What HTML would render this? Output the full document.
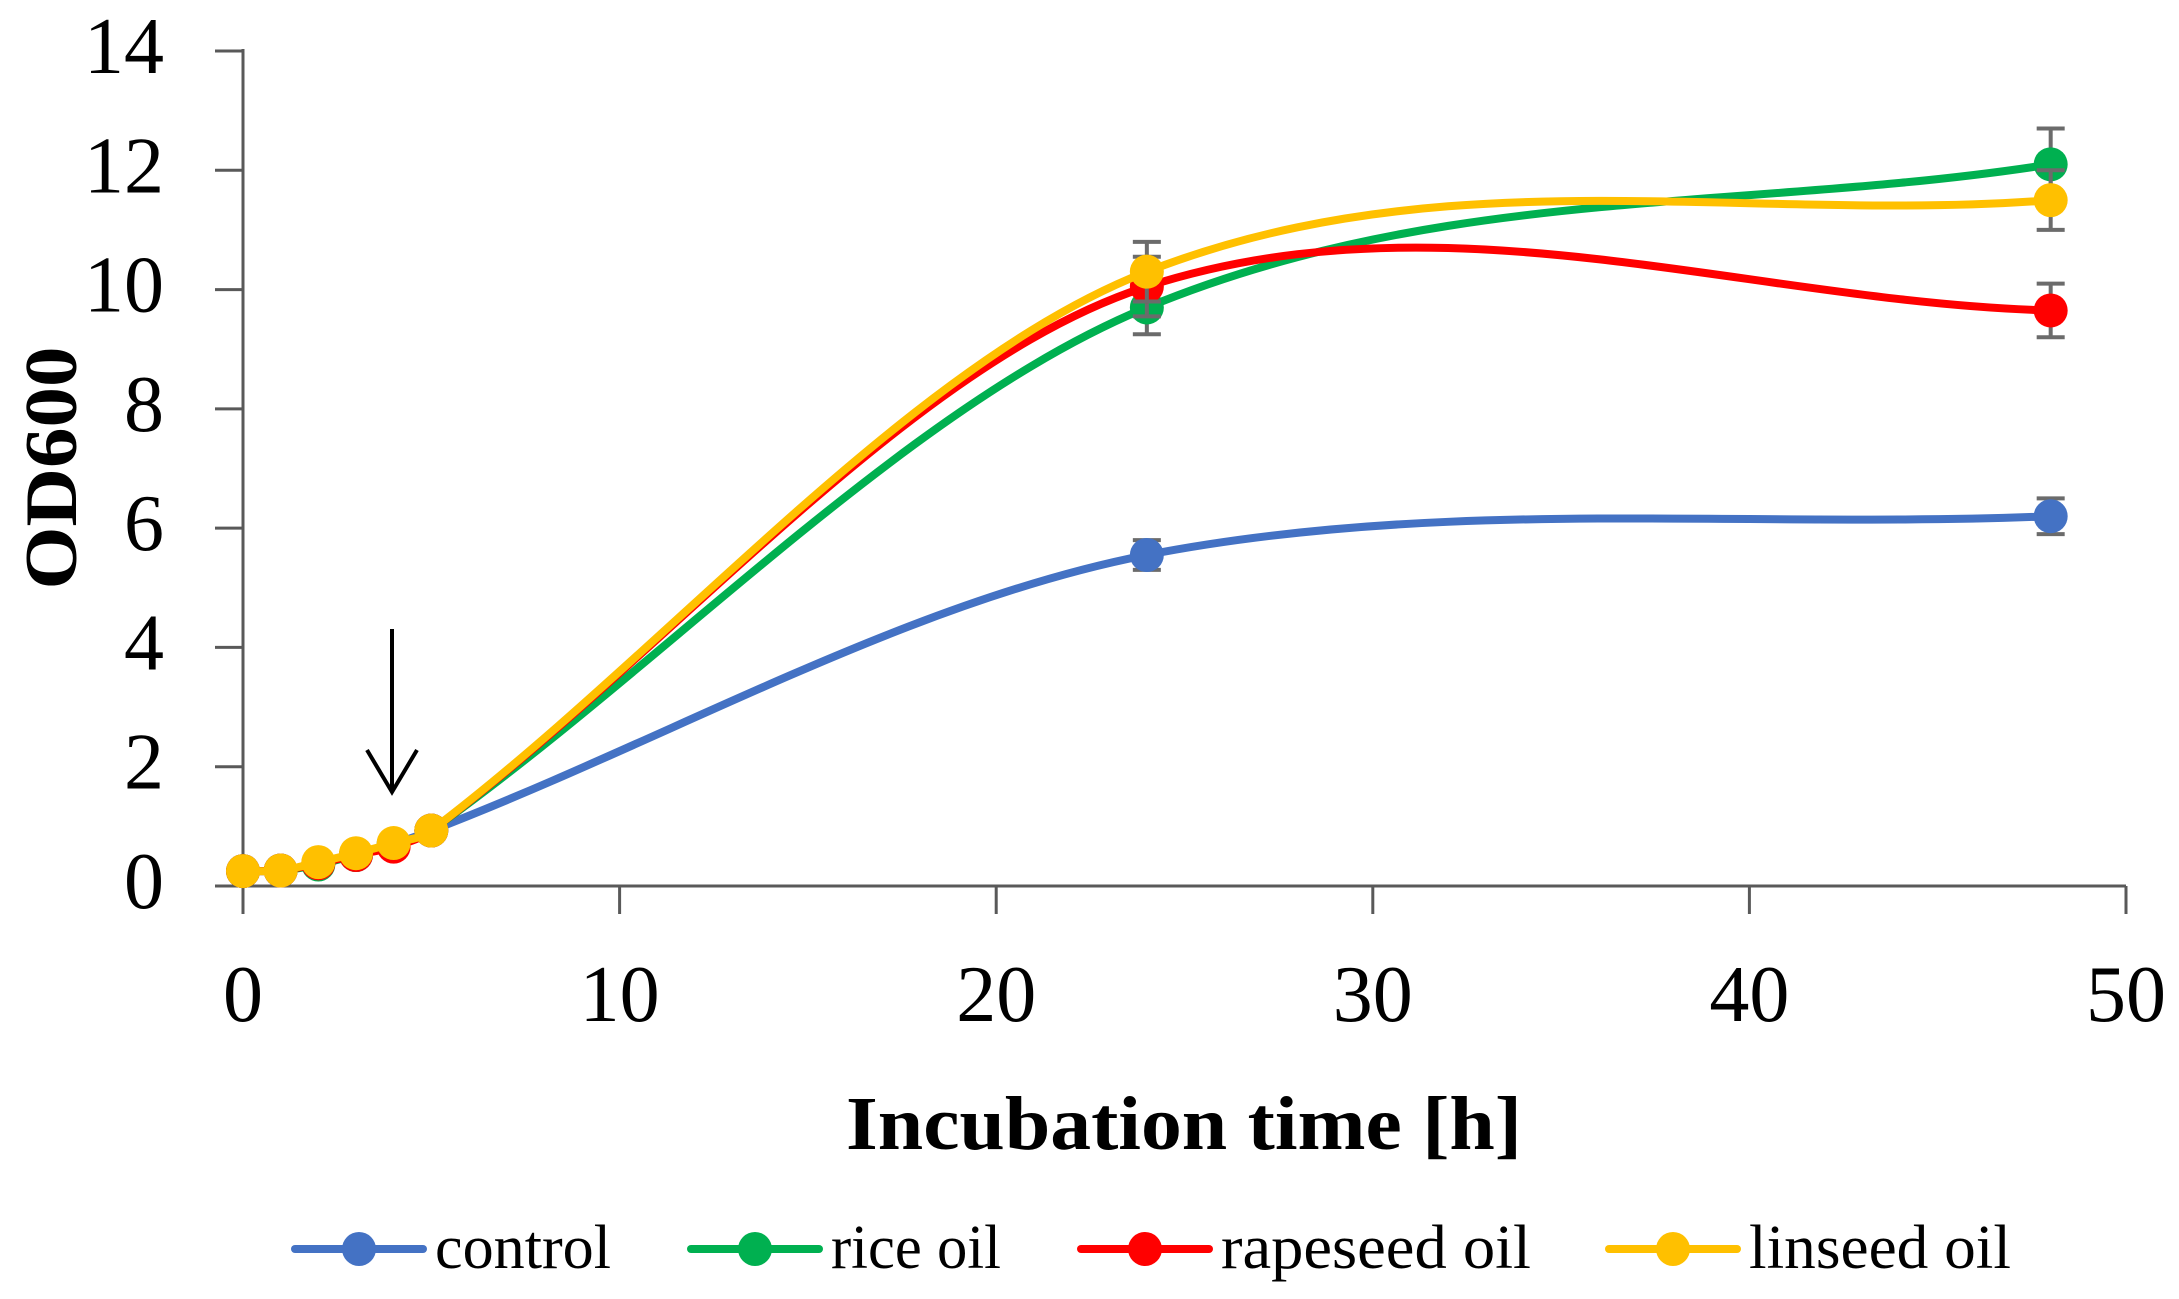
<!DOCTYPE html>
<html><head><meta charset="utf-8"><style>
html,body{margin:0;padding:0;background:#fff;}
svg{display:block;}
text{font-family:"Liberation Serif",serif;fill:#000;}
</style></head><body>
<svg id="chart" width="2179" height="1299" viewBox="0 0 2179 1299" xmlns="http://www.w3.org/2000/svg">
<g id="axes"></g>
<g id="series"></g>
<g stroke="#000" stroke-width="4" fill="none">
<line x1="392" y1="629" x2="392" y2="792"/>
<polyline points="367,750 392,792 417,750"/>
</g>
<text x="1184" y="1149" text-anchor="middle" font-size="76" font-weight="bold" textLength="676" lengthAdjust="spacingAndGlyphs">Incubation time [h]</text>
<text transform="translate(76,468) rotate(-90)" text-anchor="middle" font-size="74" font-weight="bold" textLength="243" lengthAdjust="spacingAndGlyphs">OD600</text>
<g id="legend"></g>
</svg>
<script>
const xValues = [0, 1, 2, 3, 4, 5, 24, 48];
const seriesNames = ["control", "rice oil", "rapeseed oil", "linseed oil"];
const controlValues = [0.25, 0.26, 0.38, 0.52, 0.70, 0.93, 5.55, 6.2];
const riceValues = [0.25, 0.26, 0.36, 0.52, 0.70, 0.93, 9.7, 12.1];
const rapeseedValues = [0.25, 0.26, 0.38, 0.52, 0.66, 0.93, 10.05, 9.65];
const linseedValues = [0.25, 0.26, 0.40, 0.55, 0.72, 0.93, 10.3, 11.5];
const controlErr = [0, 0, 0, 0, 0, 0, 0.25, 0.3];
const riceErr = [0, 0, 0, 0, 0, 0, 0.45, 0.6];
const rapeseedErr = [0, 0, 0, 0, 0, 0, 0.5, 0.45];
const linseedErr = [0, 0, 0, 0, 0, 0, 0.5, 0.5];
const xTicks = [0, 10, 20, 30, 40, 50];
const yTicks = [0, 2, 4, 6, 8, 10, 12, 14];

const NS = "http://www.w3.org/2000/svg";
const X0 = 243, X1 = 2126, Y0 = 886, Y1 = 51;
const sx = v => X0 + (v - 0) / 50 * (X1 - X0);
const sy = v => Y0 - v / 14 * (Y0 - Y1);
function mk(tag, attrs, parent) {
  const e = document.createElementNS(NS, tag);
  for (const k in attrs) e.setAttribute(k, attrs[k]);
  parent.appendChild(e);
  return e;
}
const axes = document.getElementById('axes');
let a = mk('line', {x1: X0, y1: Y1 - 2, x2: X0, y2: Y0 + 28, stroke: '#595959', 'stroke-width': 3}, axes);


a = mk('line', {x1: X0 - 28, y1: Y0, x2: X1, y2: Y0, stroke: '#595959', 'stroke-width': 3}, axes);


yTicks.forEach(t => {
  const l = mk('line', {x1: X0 - 28, y1: sy(t), x2: X0, y2: sy(t), stroke: '#595959', 'stroke-width': 3}, axes);
  
  
  const tx = mk('text', {x: 164, y: sy(t) + 22, 'text-anchor': 'end', 'font-size': 80}, axes);
  
  
  tx.textContent = t;
});
xTicks.forEach(t => {
  if (t > 0) {
    const l = mk('line', {x1: sx(t), y1: Y0, x2: sx(t), y2: Y0 + 28, stroke: '#595959', 'stroke-width': 3}, axes);
    
    
  }
  const tx = mk('text', {x: sx(t), y: 1021, 'text-anchor': 'middle', 'font-size': 80}, axes);
  
  
  tx.textContent = t;
});

const colors = ["#4472C4", "#00B050", "#FF0000", "#FFC000"];
const allVals = [controlValues, riceValues, rapeseedValues, linseedValues];
const allErr = [controlErr, riceErr, rapeseedErr, linseedErr];
function smoothPath(pts) {
  const n = pts.length;
  const m = pts.map((p, i) => {
    const p0 = pts[Math.max(0, i - 1)], p2 = pts[Math.min(n - 1, i + 1)];
    return (p2[1] - p0[1]) / (p2[0] - p0[0]);
  });
  let d = `M${pts[0][0]},${pts[0][1]}`;
  for (let i = 0; i < n - 1; i++) {
    const p1 = pts[i], p2 = pts[i + 1];
    const dx = (p2[0] - p1[0]) / 3;
    d += ` C${p1[0] + dx},${p1[1] + m[i] * dx} ${p2[0] - dx},${p2[1] - m[i + 1] * dx} ${p2[0]},${p2[1]}`;
  }
  return d;
}
const sg = document.getElementById('series');
const slug = ["control", "rice-oil", "rapeseed-oil", "linseed-oil"];
allVals.forEach((vals, si) => {
  const g = mk('g', {}, sg);
  
  
  const pts = vals.map((v, i) => [sx(xValues[i]), sy(v)]);
  const p = mk('path', {d: smoothPath(pts), fill: 'none', stroke: colors[si], 'stroke-width': 8}, g);
  
  
  vals.forEach((v, i) => {
    const e = allErr[si][i];
    if (e > 0) {
      const cx = sx(xValues[i]);
      const eb = mk('path', {d: `M${cx},${sy(v + e)}V${sy(v - e)}M${cx - 14},${sy(v + e)}H${cx + 14}M${cx - 14},${sy(v - e)}H${cx + 14}`, stroke: '#6b6b6b', 'stroke-width': 4, fill: 'none'}, g);
      
      
    }
  });
  vals.forEach((v, i) => {
    const c = mk('circle', {cx: sx(xValues[i]), cy: sy(v), r: 17, fill: colors[si]}, g);
    
    
  });
});

const lg = document.getElementById('legend');
const legX = [295, 691, 1081, 1609];
const legW = [176, 170, 310, 262];
seriesNames.forEach((n, i) => {
  const g = mk('g', {}, lg);
  
  
  const l = mk('line', {x1: legX[i], y1: 1249, x2: legX[i] + 128, y2: 1249, stroke: colors[i], 'stroke-width': 8, 'stroke-linecap': 'round'}, g);
  
  
  const c = mk('circle', {cx: legX[i] + 64, cy: 1249, r: 17, fill: colors[i]}, g);
  
  
  const t = mk('text', {x: legX[i] + 140, y: 1268, 'font-size': 62, textLength: legW[i], lengthAdjust: 'spacingAndGlyphs'}, g);
  
  
  t.textContent = n;
});
</script>
</body></html>
